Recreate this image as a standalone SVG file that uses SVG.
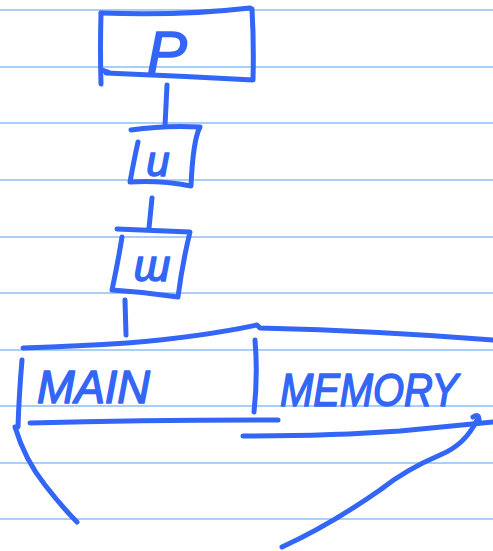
<svg xmlns="http://www.w3.org/2000/svg" width="493" height="551" viewBox="0 0 493 551">
<style>
.rule{stroke:#a9cff5;stroke-width:2}
.ink{fill:none;stroke:#3366f6;stroke-width:5;stroke-linecap:round;stroke-linejoin:round}
.lbl{fill:#3366f6;stroke:#3366f6;stroke-width:1.5;stroke-linejoin:round;font-family:"Liberation Sans","DejaVu Sans",sans-serif;font-style:italic}
</style>
<rect width="493" height="551" fill="#ffffff"/>
<g id="paper">
<line class="rule" x1="0" y1="10" x2="493" y2="10"/>
<line class="rule" x1="0" y1="67" x2="493" y2="67"/>
<line class="rule" x1="0" y1="123" x2="493" y2="123"/>
<line class="rule" x1="0" y1="180" x2="493" y2="180"/>
<line class="rule" x1="0" y1="237" x2="493" y2="237"/>
<line class="rule" x1="0" y1="293" x2="493" y2="293"/>
<line class="rule" x1="0" y1="350" x2="493" y2="350"/>
<line class="rule" x1="0" y1="406" x2="493" y2="406"/>
<line class="rule" x1="0" y1="463" x2="493" y2="463"/>
<line class="rule" x1="0" y1="519" x2="493" y2="519"/>
</g>
<g id="connectors">
<path class="ink" d="M167,85 L165,126"/>
<path class="ink" d="M152,198 L149,228"/>
<path class="ink" d="M125,300 L126,335"/>
</g>
<g id="node-p">
<path class="ink" d="M101,13 Q180,16 250,8 L252,9 Q254,45 253,80 Q180,76 106,73"/>
<path class="ink" d="M101,13 L101,16 M101,13 Q100,50 101,84 M102,70 L108,72"/>
<text class="lbl" x="167" y="73" font-size="60" text-anchor="middle">P</text>
</g>
<g id="node-l1">
<path class="ink" d="M131,130 Q165,125 200,127 Q193,140 191,186 Q160,180 130,182 Q134,160 138,142"/>
<text class="lbl" x="158" y="176" font-size="42" text-anchor="middle">u</text>
</g>
<g id="node-l2">
<path class="ink" d="M117,229 L190,232 Q182,265 178,297 Q145,292 112,290 Q118,262 122,237"/>
<text class="lbl" x="152" y="281" font-size="44" text-anchor="middle">ɯ</text>
</g>
<g id="node-main-memory">
<path class="ink" d="M23,348 Q80,346 127,343 Q200,337 257,325 L260,328 Q380,331 493,340"/>
<path class="ink" d="M255,340 Q258,375 254,412"/>
<path class="ink" d="M22,360 Q19,395 18,427"/>
<path class="ink" d="M30,423 Q150,420 278,420"/>
<path class="ink" d="M243,436 Q330,436 400,431 Q450,426 493,422"/>
<path class="ink" d="M473,417 Q479,413 479,420"/>
<path class="ink" d="M15,427 Q25,460 45,485 Q62,507 77,522"/>
<path class="ink" d="M477,420 Q465,445 440,455 Q405,470 380,490 Q330,525 282,547"/>
<text class="lbl" x="37" y="403" font-size="46" textLength="113" lengthAdjust="spacingAndGlyphs">MAIN</text>
<text class="lbl" x="280" y="406" font-size="46" textLength="178" lengthAdjust="spacingAndGlyphs">MEMORY</text>
</g>
</svg>
